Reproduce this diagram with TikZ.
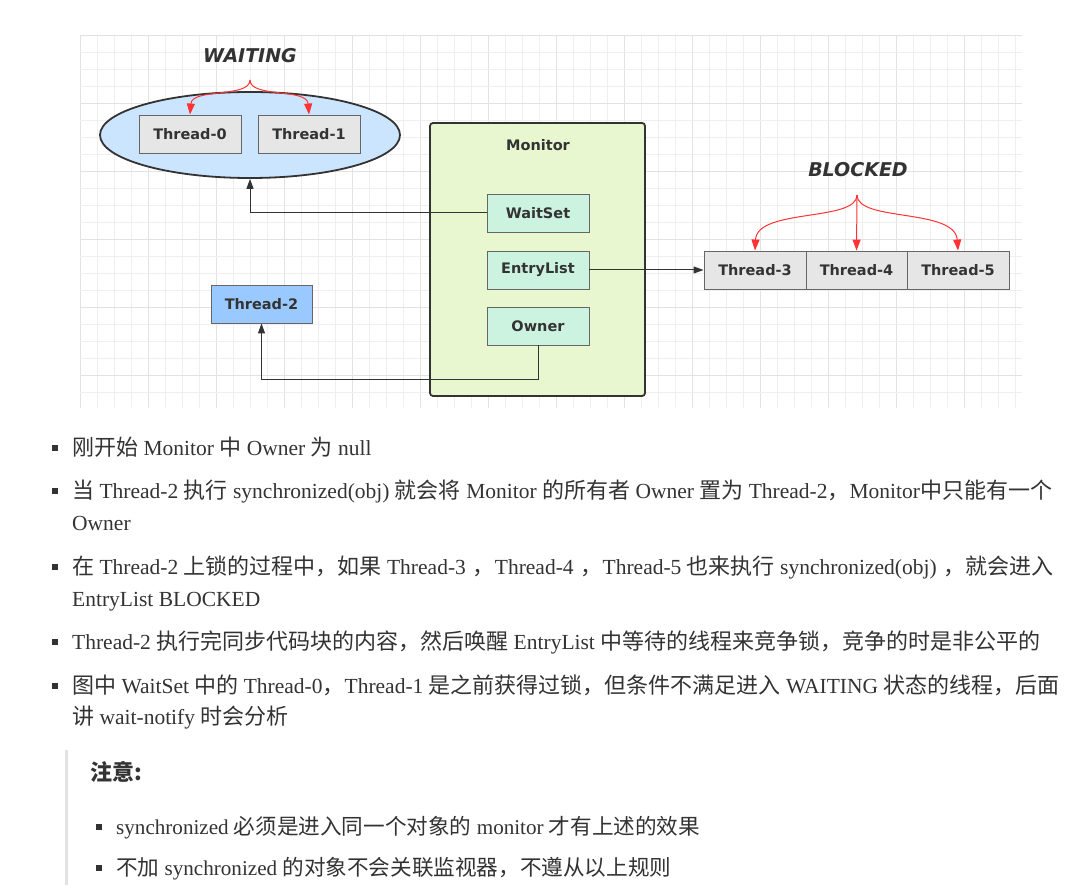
\documentclass[tikz,border=0pt]{standalone}
\usepackage{fontspec}
\setmainfont{Liberation Serif}
\newfontfamily\cjk{Noto Sans CJK SC}
\newfontfamily\diag{DejaVu Sans}
\usetikzlibrary{arrows.meta,shapes.geometric}
\definecolor{txt}{HTML}{333333}
\definecolor{gridminor}{HTML}{EFEFEF}
\definecolor{gridmajor}{HTML}{E2E2E2}
\definecolor{ellfill}{HTML}{CCE5FF}
\definecolor{grayfill}{HTML}{E6E6E6}
\definecolor{monfill}{HTML}{E8F7CF}
\definecolor{mintfill}{HTML}{CCF2E0}
\definecolor{bluefill}{HTML}{99C9FF}
\definecolor{redline}{HTML}{FF3333}
\definecolor{barcol}{HTML}{E2E2E2}
\newcommand\zh[1]{{\cjk\fontsize{22}{26}\selectfont #1}}
\newcommand\zhs[1]{{\cjk\fontsize{21.6}{26}\selectfont #1}}
\newcommand\cg{\hspace{7pt}}
\begin{document}
\begin{tikzpicture}[x=1pt,y=-1pt,
  box/.style={draw=black!60,line width=0.9pt,minimum width=102pt,minimum height=38pt,inner sep=0pt,
     font=\diag\bfseries\fontsize{14.5}{16}\selectfont,text=txt},
  graybox/.style={box,fill=grayfill},
  mintbox/.style={box,fill=mintfill},
  state/.style={font=\diag\bfseries\itshape\fontsize{19}{22}\selectfont,text=txt,inner sep=0pt},
  conn/.style={draw=txt,line width=1pt,-{Triangle[width=7pt,length=10pt]}},
  redarr/.style={draw=redline,line width=1pt,-{Triangle[width=8pt,length=11pt]}},
  line/.style={anchor=base west,inner sep=0pt,text=txt,font=\fontsize{21.5}{26}\selectfont},
  notel/.style={line,font=\fontsize{21.1}{26}\selectfont},
  bul/.style={fill=txt,minimum size=5.5pt,inner sep=0pt}]
\useasboundingbox (0,0) rectangle (1092,885);
\fill[white] (0,0) rectangle (1092,885);
% grid
\foreach \i in {0,...,55} {
  \pgfmathtruncatemacro\m{mod(\i,4)}
  \ifnum\m=0 \draw[gridmajor,line width=0.8pt] ({80+17*\i},35) -- ({80+17*\i},408);
  \else \draw[gridminor,line width=0.8pt] ({80+17*\i},35) -- ({80+17*\i},408); \fi
}
\foreach \j in {0,...,21} {
  \pgfmathtruncatemacro\m{mod(\j,4)}
  \ifnum\m=0 \draw[gridmajor,line width=0.8pt] (80,{35+17*\j}) -- (1022,{35+17*\j});
  \else \draw[gridminor,line width=0.8pt] (80,{35+17*\j}) -- (1022,{35+17*\j}); \fi
}
% waiting group
\node[ellipse,draw=txt,line width=1.8pt,fill=ellfill,minimum width=300pt,minimum height=86pt] (waiting) at (250,135) {};
\node[graybox] (t0) at (190,134) {Thread-0};
\node[graybox] (t1) at (309,134) {Thread-1};
\node[state] (wlabel) at (250,56) {WAITING};
\coordinate (wtop) at (250,80);
\draw[redarr] (wtop) .. controls (250,98) and (192,88) .. (t0.north);
\draw[redarr] (wtop) .. controls (250,98) and (307,88) .. (t1.north);
% monitor
\node[draw=txt,line width=1.8pt,fill=monfill,rounded corners=3pt,minimum width=215pt,minimum height=273pt,inner sep=0pt] (monitor) at (537.5,259.5) {};
\node[font=\diag\bfseries\fontsize{14.5}{16}\selectfont,text=txt] (montitle) at (538,145) {Monitor};
\node[mintbox] (waitset) at (538,213) {WaitSet};
\node[mintbox] (entry) at (538,270) {EntryList};
\node[mintbox] (owner) at (538,326) {Owner};
% thread-2
\node[box,fill=bluefill,minimum width=101pt] (t2) at (261.5,304) {Thread-2};
% blocked
\node[graybox] (t3) at (755,270) {Thread-3};
\node[graybox,minimum width=101pt] (t4) at (856.5,270) {Thread-4};
\node[graybox] (t5) at (958,270) {Thread-5};
\node[state] (blabel) at (858,170) {BLOCKED};
\coordinate (btop) at (857,195);
\draw[redarr] (btop) .. controls (857,222) and (757,208) .. (t3.north);
\draw[redarr] (btop) -- (t4.north);
\draw[redarr] (btop) .. controls (857,222) and (955,208) .. (t5.north);
% connectors
\draw[conn] (waitset.west) -| (waiting.south);
\draw[conn] (entry.east) -- (t3.west);
\coordinate (obend) at (538,379);
\draw[conn] (owner.south) -- (obend) -| (t2.south);
% text
\node[bul] (b1) at (55,448) {};
\node[line] (l1) at (72,455) {\zh{刚开始} Monitor \zh{中} Owner \zh{为} null};
\node[bul] (b2) at (55,491) {};
\node[line] (l2) at (72,498) {\zh{当} Thread-2 \zh{执行} synchronized(obj) \zh{就会将} Monitor \zh{的所有者} Owner \zh{置为} Thread-2\zh{，}Monitor\zh{中只能有一个}};
\node[line] (l2b) at (72,530) {Owner};
\node[bul] (b3) at (55,567) {};
\node[line] (l3) at (72,574) {\zh{在} Thread-2 \zh{上锁的过程中，如果} Thread-3\cg\zh{，}Thread-4\cg\zh{，}Thread-5 \zh{也来执行} synchronized(obj)\cg\zh{，就会进入}};
\node[line] (l3b) at (72,606) {EntryList BLOCKED};
\node[bul] (b4) at (55,642) {};
\node[line] (l4) at (72,649) {Thread-2 \zh{执行完同步代码块的内容，然后唤醒} EntryList \zh{中等待的线程来竞争锁，竞争的时是非公平的}};
\node[bul] (b5) at (55,686) {};
\node[line] (l5) at (72,693) {\zh{图中} WaitSet \zh{中的} Thread-0\zh{，}Thread-1 \zh{是之前获得过锁，但条件不满足进入} WAITING \zh{状态的线程，后面}};
\node[line] (l5b) at (72,724) {\zh{讲} wait-notify \zh{时会分析}};
% note
\fill[barcol] (65,750) rectangle (68,885);
\node[line,font=\cjk\bfseries\fontsize{22}{26}\selectfont] (note) at (90,780) {注意:};
\node[bul] (b6) at (99,827) {};
\node[notel] (l6) at (116,834) {synchronized \zhs{必须是进入同一个对象的} monitor \zhs{才有上述的效果}};
\node[bul] (b7) at (99,868) {};
\node[notel] (l7) at (116,875) {\zhs{不加} synchronized \zhs{的对象不会关联监视器，不遵从以上规则}};
\end{tikzpicture}
\end{document}
